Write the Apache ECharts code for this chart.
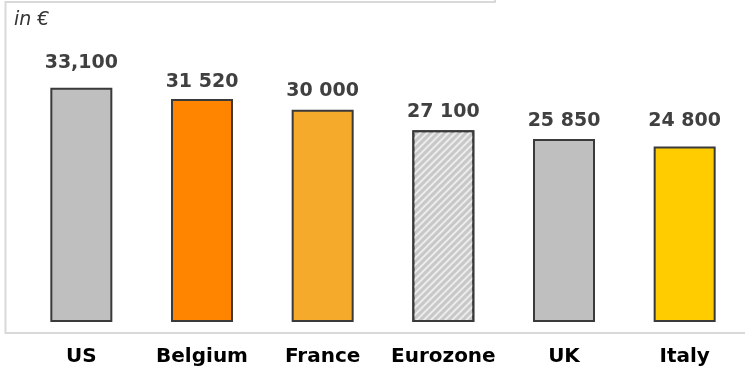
<!DOCTYPE html>
<html>
<head>
<meta charset="utf-8">
<script src="https://cdn.jsdelivr.net/npm/echarts@6/dist/echarts.min.js"></script>
<style>
  html, body { margin: 0; padding: 0; background: #fff; }
  #chart { width: 745px; height: 372px; }
</style>
</head>
<body>
<div id="chart"></div>
<script>
// Average income per country, in euros
const countries = ['US', 'Belgium', 'France', 'Eurozone', 'UK', 'Italy'];
const incomes = [33100, 31520, 30000, 27100, 25850, 24800];
// Thousands separator used in each value label
const separators = [',', ' ', ' ', ' ', ' ', ' '];

// Styling per bar
const barColors = ['#bfbfbf', '#ff8500', '#f5aa2b', '#c8c8c8', '#bfbfbf', '#ffcc00'];
const hatched = [false, false, false, true, false, false];
const labelGaps = [15, 7, 9, 9, 9, 16];

const FONT = '"DejaVu Sans", Verdana, sans-serif';

function formatValue(v, sep) {
  return String(v).replace(/\B(?=(\d{3})+(?!\d))/g, sep);
}

const chart = echarts.init(document.getElementById('chart'), null, { renderer: 'canvas' });

const seriesData = incomes.map((v, i) => {
  const item = {
    value: v,
    itemStyle: {
      color: barColors[i],
      borderColor: '#3a3a3a',
      borderWidth: 2
    },
    label: { distance: labelGaps[i] }
  };
  if (hatched[i]) {
    item.itemStyle.decal = {
      symbol: 'rect',
      symbolSize: 1,
      dashArrayX: [1, 0],
      dashArrayY: [1.5, 2.5],
      rotation: -Math.PI / 4,
      color: 'rgba(255,255,255,0.65)'
    };
  }
  return item;
});

chart.setOption({
  animation: false,
  backgroundColor: '#ffffff',
  textStyle: { fontFamily: FONT },
  grid: { left: 21, right: -5, top: 39, bottom: 50, containLabel: false },
  xAxis: {
    type: 'category',
    data: countries,
    axisLine: { show: false },
    axisTick: { show: false },
    axisLabel: {
      interval: 0,
      margin: 25,
      color: '#000000',
      fontWeight: 'bold',
      fontSize: 20,
      fontFamily: FONT
    }
  },
  yAxis: {
    type: 'value',
    min: 0,
    max: 40000,
    show: false,
    splitLine: { show: false }
  },
  series: [{
    type: 'bar',
    data: seriesData,
    barWidth: 62,
    label: {
      show: true,
      position: 'top',
      color: '#404040',
      fontWeight: 'bold',
      fontSize: 19,
      fontFamily: FONT,
      formatter: p => formatValue(p.value, separators[p.dataIndex])
    }
  }],
  graphic: [
    {
      type: 'polyline',
      silent: true,
      shape: { points: [[495, 0], [495, 2], [5.5, 2], [5.5, 333], [745, 333]] },
      style: { stroke: '#d9d9d9', lineWidth: 2, fill: null }
    },
    {
      type: 'text',
      left: 14,
      top: 11,
      style: {
        text: 'in €',
        fill: '#333333',
        fontStyle: 'italic',
        fontSize: 19,
        fontFamily: FONT
      }
    }
  ]
});
</script>
</body>
</html>
